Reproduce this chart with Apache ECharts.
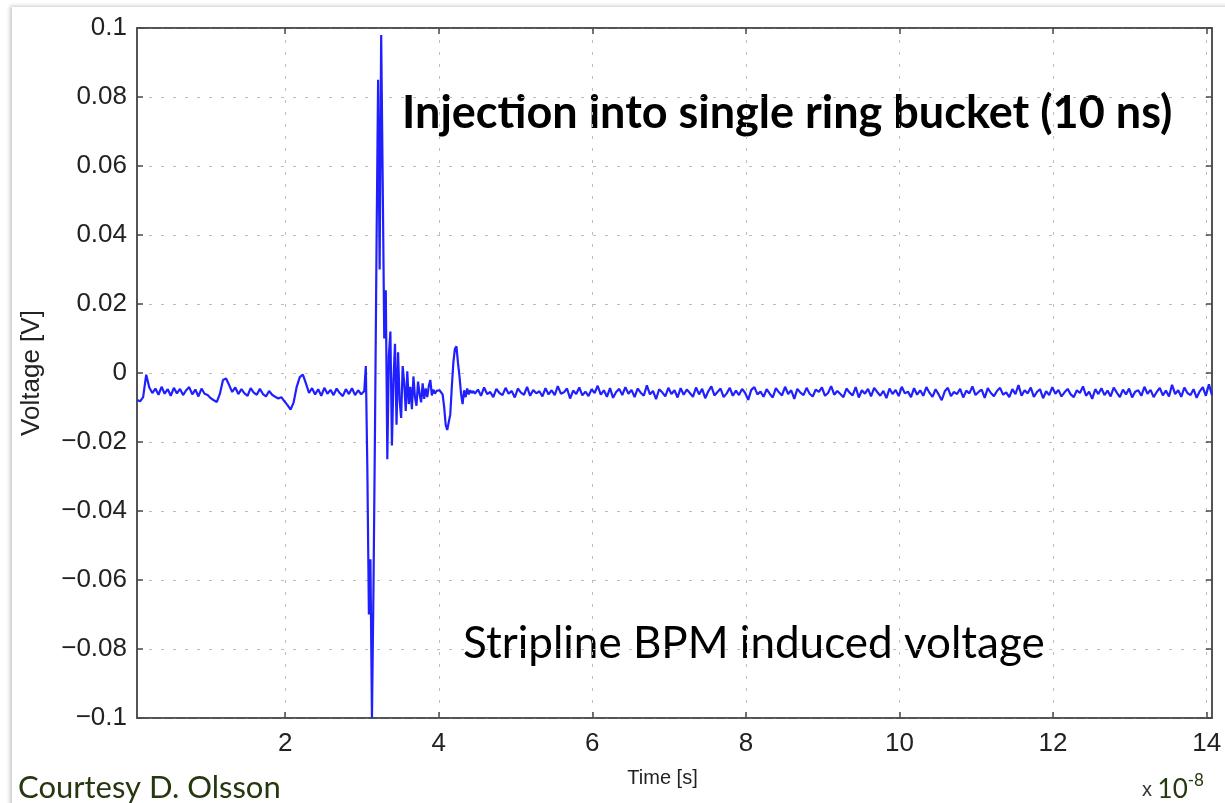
<!DOCTYPE html>
<html>
<head>
<meta charset="utf-8">
<title>Stripline BPM induced voltage</title>
<script src="https://cdn.jsdelivr.net/npm/echarts@6/dist/echarts.min.js"></script>
<style>
  html, body { margin: 0; padding: 0; background: #ffffff; overflow: hidden; }
  .sheet {
    position: absolute; left: 12px; top: 7px; width: 1240px; height: 820px;
    background: #ffffff; box-shadow: -2px -1px 4px rgba(0, 0, 0, 0.22);
  }
  #chart { position: absolute; left: 0; top: 0; width: 1225px; height: 803px; }
</style>
</head>
<body>
<div class="sheet"></div>
<div id="chart"></div>
<script>
// Time axis is in units of 1e-8 s; voltage in volts.
const timeMin = 0.07;
const timeMax = 14.07;
const xTickValues = [2, 4, 6, 8, 10, 12, 14];

// Baseline before the injected bunch: samples every 0.04 starting at 0.07
const preStart = 0.07;
const preStep = 0.04;
const preVolts = [
  -0.0078, -0.0082, -0.0070, -0.0005, -0.0042, -0.0058, -0.0045, -0.0063, -0.0040, -0.0060,
  -0.0047, -0.0066, -0.0043, -0.0059, -0.0046, -0.0064, -0.0050, -0.0041, -0.0062, -0.0048,
  -0.0068, -0.0045, -0.0060, -0.0064, -0.0073, -0.0079, -0.0084, -0.0060, -0.0020, -0.0016,
  -0.0035, -0.0055, -0.0042, -0.0061, -0.0047, -0.0059, -0.0066, -0.0044, -0.0057, -0.0063,
  -0.0046, -0.0061, -0.0068, -0.0052, -0.0063, -0.0069, -0.0074, -0.0070, -0.0082, -0.0093,
  -0.0106, -0.0085, -0.0040, -0.0012, -0.0005, -0.0030, -0.0058, -0.0044, -0.0062, -0.0047,
  -0.0066, -0.0043, -0.0060, -0.0049, -0.0064, -0.0045, -0.0058, -0.0067, -0.0047, -0.0061,
  -0.0044, -0.0064, -0.0050, -0.0062, -0.0052
];

// Bunch passage, ringing and reflection: samples every 0.02 starting at 3.05
const pulseStart = 3.05;
const pulseStep = 0.02;
const pulseVolts = [
   0.0020, -0.0280, -0.0700, -0.0540, -0.1000, -0.0620, -0.0150,  0.0380,  0.0850,  0.0300,
   0.0980,  0.0550,  0.0100,  0.0240, -0.0250,  0.0050,  0.0120, -0.0210, -0.0020,  0.0085,
  -0.0150,  0.0060, -0.0080, -0.0130,  0.0020, -0.0030, -0.0110,  0.0005, -0.0090, -0.0040,
  -0.0105, -0.0010, -0.0070, -0.0095, -0.0025, -0.0060, -0.0085, -0.0030, -0.0075, -0.0045,
  -0.0070, -0.0038, -0.0020, -0.0065, -0.0048, -0.0060, -0.0052, -0.0056, -0.0050, -0.0055,
  -0.0062, -0.0098, -0.0150, -0.0165, -0.0170, -0.0120, -0.0040,  0.0030,  0.0070,  0.0077,
   0.0030, -0.0010, -0.0060, -0.0090, -0.0050, -0.0070, -0.0045, -0.0062, -0.0050, -0.0058,
  -0.0052, -0.0060
];

// Baseline after the bunch: samples every 0.04 starting at 4.51
const postStart = 4.51;
const postStep = 0.04;
const postVolts = [
  -0.0048, -0.0066, -0.0042, -0.0061, -0.0055, -0.0070, -0.0046, -0.0058, -0.0064, -0.0043, -0.0060, -0.0052,
  -0.0071, -0.0045, -0.0057, -0.0063, -0.0040, -0.0066, -0.0049, -0.0059, -0.0053, -0.0068, -0.0044, -0.0062,
  -0.0050, -0.0064, -0.0038, -0.0060, -0.0056, -0.0045, -0.0074, -0.0051, -0.0061, -0.0042, -0.0065, -0.0054,
  -0.0067, -0.0047, -0.0058, -0.0037, -0.0063, -0.0050, -0.0069, -0.0044, -0.0072, -0.0055, -0.0046, -0.0064,
  -0.0041, -0.0060, -0.0049, -0.0070, -0.0045, -0.0057, -0.0066, -0.0036, -0.0062, -0.0052, -0.0076, -0.0047,
  -0.0056, -0.0068, -0.0043, -0.0061, -0.0050, -0.0071, -0.0044, -0.0063, -0.0048, -0.0058, -0.0069, -0.0042,
  -0.0062, -0.0046, -0.0073, -0.0053, -0.0039, -0.0065, -0.0055, -0.0045, -0.0070, -0.0059, -0.0043, -0.0066,
  -0.0051, -0.0064, -0.0046, -0.0058, -0.0078, -0.0049, -0.0041, -0.0062, -0.0054, -0.0069, -0.0047, -0.0060,
  -0.0071, -0.0044, -0.0056, -0.0065, -0.0040, -0.0061, -0.0050, -0.0075, -0.0046, -0.0057, -0.0064, -0.0043,
  -0.0060, -0.0068, -0.0048, -0.0055, -0.0042, -0.0066, -0.0058, -0.0038, -0.0063, -0.0052, -0.0061, -0.0070,
  -0.0045, -0.0057, -0.0065, -0.0041, -0.0071, -0.0050, -0.0060, -0.0046, -0.0068, -0.0043, -0.0055, -0.0066,
  -0.0052, -0.0073, -0.0045, -0.0061, -0.0049, -0.0067, -0.0040, -0.0059, -0.0054, -0.0070, -0.0044, -0.0063,
  -0.0050, -0.0066, -0.0041, -0.0057, -0.0069, -0.0047, -0.0062, -0.0079, -0.0053, -0.0043, -0.0067, -0.0055,
  -0.0061, -0.0046, -0.0071, -0.0051, -0.0059, -0.0039, -0.0064, -0.0055, -0.0048, -0.0072, -0.0044, -0.0058,
  -0.0067, -0.0052, -0.0043, -0.0063, -0.0056, -0.0070, -0.0047, -0.0061, -0.0035, -0.0066, -0.0050, -0.0059,
  -0.0042, -0.0069, -0.0055, -0.0047, -0.0073, -0.0053, -0.0064, -0.0041, -0.0060, -0.0049, -0.0068, -0.0056,
  -0.0046, -0.0062, -0.0070, -0.0050, -0.0058, -0.0039, -0.0066, -0.0054, -0.0075, -0.0047, -0.0061, -0.0044,
  -0.0064, -0.0051, -0.0068, -0.0042, -0.0057, -0.0070, -0.0048, -0.0062, -0.0045, -0.0071, -0.0054, -0.0050,
  -0.0066, -0.0040, -0.0060, -0.0049, -0.0070, -0.0055, -0.0043, -0.0065, -0.0051, -0.0068, -0.0034, -0.0061,
  -0.0050, -0.0069, -0.0042, -0.0058, -0.0064, -0.0047, -0.0072, -0.0053, -0.0041, -0.0066, -0.0033, -0.0064
];

// Build [time, voltage] pairs for each sampled segment
function segment(start, step, volts) {
  return volts.map((v, i) => [+(start + i * step).toFixed(3), v]);
}
const trace = []
  .concat(segment(preStart, preStep, preVolts))
  .concat(segment(pulseStart, pulseStep, pulseVolts))
  .concat(segment(postStart, postStep, postVolts));

const axisFont = '"Liberation Sans", Arial, Helvetica, sans-serif';
const noteFont = 'Lato, "Open Sans", sans-serif';
const frameColor = '#4a4a4a';
const gridLine = { show: true, lineStyle: { color: '#bdbdbd', width: 1, type: [3, 9] } };

function voltLabel(v) {
  const r = parseFloat(v.toFixed(2));
  if (r === 0) return '0';
  return r < 0 ? '\u2212' + String(-r) : String(r);
}

const chart = echarts.init(document.getElementById('chart'), null, { renderer: 'canvas' });

chart.setOption({
  animation: false,
  backgroundColor: 'transparent',
  grid: {
    left: 137, right: 13, top: 28, bottom: 85,
    show: true, borderColor: frameColor, borderWidth: 1.5, backgroundColor: '#ffffff'
  },
  xAxis: [{
    type: 'value',
    min: timeMin, max: timeMax,
    position: 'bottom',
    name: 'Time [s]',
    nameLocation: 'middle',
    nameGap: 50,
    nameTextStyle: { fontFamily: axisFont, fontSize: 20, color: '#222', padding: [0, 24, 0, 0] },
    axisLine: { show: true, onZero: false, lineStyle: { color: frameColor, width: 1.5 } },
    axisTick: { show: true, inside: true, length: 6, customValues: xTickValues, lineStyle: { color: frameColor, width: 1.5 } },
    axisLabel: { customValues: xTickValues, fontFamily: axisFont, fontSize: 26, color: '#222', margin: 13 },
    splitLine: gridLine
  }, {
    type: 'value',
    min: timeMin, max: timeMax,
    position: 'top',
    axisLine: { show: true, onZero: false, lineStyle: { color: frameColor, width: 1.5 } },
    axisTick: { show: true, inside: true, length: 6, customValues: xTickValues, lineStyle: { color: frameColor, width: 1.5 } },
    axisLabel: { show: false },
    splitLine: { show: false }
  }],
  yAxis: [{
    type: 'value',
    min: -0.1, max: 0.1, interval: 0.02,
    position: 'left',
    name: 'Voltage [V]',
    nameLocation: 'middle',
    nameGap: 92,
    nameRotate: 90,
    nameTextStyle: { fontFamily: axisFont, fontSize: 26, color: '#222' },
    axisLine: { show: true, onZero: false, lineStyle: { color: frameColor, width: 1.5 } },
    axisTick: { show: true, inside: true, length: 6, lineStyle: { color: frameColor, width: 1.5 } },
    axisLabel: { formatter: voltLabel, fontFamily: axisFont, fontSize: 26, color: '#222', margin: 10 },
    splitLine: gridLine
  }, {
    type: 'value',
    min: -0.1, max: 0.1, interval: 0.02,
    position: 'right',
    axisLine: { show: true, onZero: false, lineStyle: { color: frameColor, width: 1.5 } },
    axisTick: { show: true, inside: true, length: 6, lineStyle: { color: frameColor, width: 1.5 } },
    axisLabel: { show: false },
    splitLine: { show: false }
  }],
  series: [{
    type: 'line',
    data: trace,
    xAxisIndex: 0,
    yAxisIndex: 0,
    showSymbol: false,
    symbol: 'none',
    clip: true,
    lineStyle: { color: '#2020ff', width: 2.2 },
    emphasis: { disabled: true }
  }],
  graphic: [
    {
      type: 'text', left: 402, top: 91, silent: true,
      style: { text: 'Injection into single ring bucket (10 ns)', font: 'bold 45px ' + noteFont, fill: '#000' }
    },
    {
      type: 'text', left: 463, top: 622, silent: true,
      style: { text: 'Stripline BPM induced voltage', font: '44px ' + noteFont, fill: '#000' }
    },
    {
      type: 'text', left: 18, top: 772, silent: true,
      style: { text: 'Courtesy D. Olsson', font: '31px ' + noteFont, fill: '#26380f' }
    },
    {
      type: 'text', left: 1142, top: 772, silent: true,
      style: {
        text: '{x|x }{b|10}{s|-8}',
        rich: {
          x: { font: '20px ' + axisFont, fill: '#333', padding: [8, 0, 0, 0] },
          b: { font: '26px ' + noteFont, fill: '#26380f', padding: [6, 0, 0, 0] },
          s: { font: '17px ' + noteFont, fill: '#26380f', padding: [0, 0, 12, 0] }
        }
      }
    }
  ]
});
</script>
</body>
</html>
